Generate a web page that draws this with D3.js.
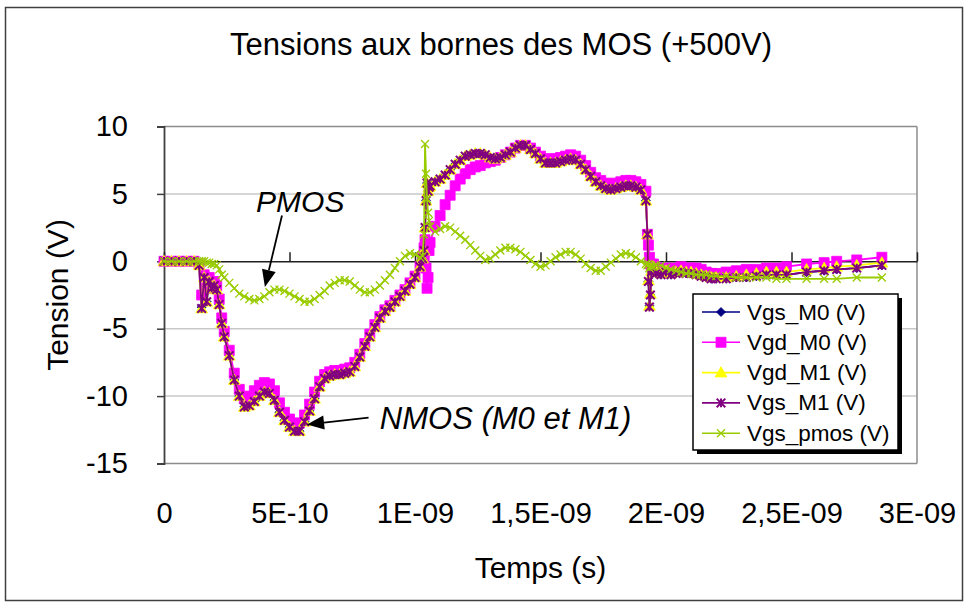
<!DOCTYPE html>
<html>
<head>
<meta charset="utf-8">
<script src="https://cdn.jsdelivr.net/npm/d3@7"></script>
<style>
  body { margin: 0; background: #fff; }
  svg { display: block; }
  text { font-family: "Liberation Sans", Arial, sans-serif; fill: #000; }
</style>
</head>
<body>
<svg id="chart" width="967" height="605"></svg>
<script>
// Time base shared by every series, in nanoseconds
const timeNs = [
  0.00, 0.03, 0.06, 0.09, 0.12,
  0.14, 0.15, 0.16, 0.17, 0.18, 0.19, 0.20, 0.21, 0.22, 0.23, 0.24,
  0.26, 0.28, 0.30, 0.32, 0.34, 0.36, 0.38, 0.40, 0.42, 0.44,
  0.46, 0.48, 0.50, 0.52, 0.54, 0.56, 0.58, 0.60, 0.62, 0.64,
  0.66, 0.68, 0.70, 0.72, 0.74, 0.76, 0.78, 0.80, 0.82, 0.84,
  0.86, 0.88, 0.90, 0.92, 0.94, 0.96, 0.98, 1.00, 1.02,
  1.03, 1.036, 1.040, 1.044, 1.048, 1.052, 1.056, 1.06,
  1.08, 1.10, 1.12, 1.14, 1.16, 1.18, 1.20, 1.22, 1.24, 1.26,
  1.28, 1.30, 1.32, 1.34, 1.36, 1.38, 1.40, 1.42, 1.44, 1.46,
  1.48, 1.50, 1.52, 1.54, 1.56, 1.58, 1.60, 1.62, 1.64, 1.66,
  1.68, 1.70, 1.72, 1.74, 1.76, 1.78, 1.80, 1.82, 1.84, 1.86,
  1.88, 1.90, 1.92,
  1.926, 1.930, 1.934, 1.938, 1.942, 1.95, 1.96,
  1.98, 2.00, 2.02, 2.04, 2.06, 2.08, 2.10, 2.12, 2.14, 2.16, 2.18, 2.20,
  2.24, 2.28, 2.32, 2.36, 2.40, 2.44, 2.48,
  2.56, 2.63, 2.68, 2.76, 2.86
];

const vgsM0 = [
  0, 0, 0, 0, 0,
  -0.3, -3.4, -1.2, -3.0, -1.5, -2.0, -1.8, -2.1, -3.2, -4.6, -5.6,
  -7.0, -8.8, -10.0, -10.8, -10.7, -10.4, -10.0, -9.7, -9.8, -10.3,
  -11.2, -11.8, -12.3, -12.6, -12.6, -11.9, -11.1, -10.2, -9.3, -8.7,
  -8.5, -8.4, -8.4, -8.3, -8.2, -7.8, -7.1, -6.3, -5.6, -4.9,
  -4.2, -3.7, -3.4, -3.0, -2.6, -2.2, -1.7, -1.2, -0.4,
  0.2, 0.8, 2.5, 4.5, 5.8, 5.2, 5.5, 5.6,
  5.9, 6.1, 6.4, 6.8, 7.2, 7.5, 7.8, 7.9, 8.0, 8.0,
  7.9, 7.7, 7.6, 7.7, 7.9, 8.1, 8.4, 8.6, 8.6, 8.3,
  8.0, 7.6, 7.3, 7.3, 7.3, 7.4, 7.5, 7.6, 7.5, 7.2,
  6.8, 6.3, 5.9, 5.6, 5.4, 5.3, 5.4, 5.5, 5.6, 5.6,
  5.5, 5.3, 4.5,
  2.0, -1.5, -3.3, -2.5, -0.8, -0.5, -0.9,
  -1.0, -0.8, -1.0, -0.9, -0.8, -0.9, -0.9, -1.0, -1.1, -1.2, -1.3, -1.3,
  -1.3, -1.2, -1.2, -1.1, -1.0, -1.0, -1.0,
  -0.8, -0.7, -0.6, -0.5, -0.3
];

const vgdM0 = [
  0, 0, 0, 0, 0,
  -0.2, -2.5, -1.0, -2.0, -1.2, -1.6, -1.5, -1.8, -2.8, -4.2, -5.2,
  -6.6, -8.3, -9.5, -10.2, -10.0, -9.6, -9.2, -9.0, -9.1, -9.6,
  -10.5, -11.2, -11.7, -12.0, -12.0, -11.4, -10.6, -9.7, -8.9, -8.4,
  -8.2, -8.1, -8.1, -8.0, -7.9, -7.5, -6.9, -6.1, -5.4, -4.7,
  -4.1, -3.6, -3.3, -2.9, -2.5, -2.1, -1.6, -1.1, -0.4,
  0.3, 1.0, 1.6, -0.5, -2.0, -1.2, 0.8, 1.4,
  2.6, 3.4, 4.2, 4.9, 5.6, 6.1, 6.5, 6.8, 7.0, 7.1,
  7.3, 7.4, 7.5, 7.7, 7.9, 8.1, 8.4, 8.6, 8.6, 8.4,
  8.1, 7.8, 7.6, 7.6, 7.6, 7.7, 7.8, 7.9, 7.8, 7.5,
  7.1, 6.6, 6.2, 6.0, 5.8, 5.7, 5.8, 5.9, 6.0, 6.0,
  5.9, 5.7, 5.2,
  2.0, 1.2, 0.3, -0.2, -0.3, -0.2, -0.5,
  -0.6, -0.5, -0.6, -0.5, -0.4, -0.5, -0.5, -0.5, -0.6, -0.8, -0.9, -0.9,
  -0.8, -0.7, -0.6, -0.6, -0.5, -0.5, -0.4,
  -0.2, -0.1, 0.0, 0.1, 0.3
];

const vgdM1 = [
  0, 0, 0, 0, 0,
  -0.3, -3.5, -1.2, -3.0, -1.5, -2.0, -1.8, -2.1, -3.2, -4.6, -5.6,
  -7.0, -8.8, -10.0, -10.8, -10.7, -10.4, -10.0, -9.7, -9.8, -10.3,
  -11.2, -11.8, -12.3, -12.6, -12.6, -11.9, -11.1, -10.2, -9.3, -8.7,
  -8.5, -8.4, -8.4, -8.3, -8.2, -7.8, -7.1, -6.3, -5.6, -4.9,
  -4.2, -3.7, -3.4, -3.0, -2.6, -2.2, -1.7, -1.2, -0.4,
  0.2, 0.8, 2.5, 4.5, 5.8, 5.2, 5.5, 5.6,
  5.9, 6.1, 6.4, 6.8, 7.2, 7.5, 7.8, 7.9, 8.0, 8.0,
  7.9, 7.7, 7.6, 7.7, 7.9, 8.1, 8.4, 8.6, 8.6, 8.3,
  8.0, 7.6, 7.3, 7.3, 7.3, 7.4, 7.5, 7.6, 7.5, 7.2,
  6.8, 6.3, 5.9, 5.6, 5.4, 5.3, 5.4, 5.5, 5.6, 5.6,
  5.5, 5.3, 4.5,
  2.0, -1.4, -3.3, -2.4, -0.7, -0.4, -0.8,
  -0.9, -0.7, -0.9, -0.8, -0.7, -0.8, -0.8, -0.9, -1.0, -1.1, -1.2, -1.2,
  -1.2, -1.1, -1.0, -0.9, -0.8, -0.8, -0.8,
  -0.6, -0.5, -0.4, -0.3, -0.1
];

const vgsM1 = [
  0, 0, 0, 0, 0,
  -0.3, -3.5, -1.2, -3.0, -1.5, -2.0, -1.8, -2.1, -3.2, -4.6, -5.6,
  -7.0, -8.8, -10.0, -10.8, -10.7, -10.4, -10.0, -9.7, -9.8, -10.3,
  -11.2, -11.8, -12.3, -12.6, -12.6, -11.9, -11.1, -10.2, -9.3, -8.7,
  -8.5, -8.4, -8.4, -8.3, -8.2, -7.8, -7.1, -6.3, -5.6, -4.9,
  -4.2, -3.7, -3.4, -3.0, -2.6, -2.2, -1.7, -1.2, -0.4,
  0.2, 0.8, 2.5, 4.5, 5.8, 5.2, 5.5, 5.6,
  5.9, 6.1, 6.4, 6.8, 7.2, 7.5, 7.8, 7.9, 8.0, 8.0,
  7.9, 7.7, 7.6, 7.7, 7.9, 8.1, 8.4, 8.6, 8.6, 8.3,
  8.0, 7.6, 7.3, 7.3, 7.3, 7.4, 7.5, 7.6, 7.5, 7.2,
  6.8, 6.3, 5.9, 5.6, 5.4, 5.3, 5.4, 5.5, 5.6, 5.6,
  5.5, 5.3, 4.5,
  2.0, -1.5, -3.4, -2.5, -0.8, -0.5, -0.9,
  -1.0, -0.8, -1.0, -0.9, -0.8, -0.9, -0.9, -1.0, -1.1, -1.2, -1.3, -1.3,
  -1.3, -1.2, -1.2, -1.1, -1.0, -1.0, -1.0,
  -0.8, -0.7, -0.6, -0.5, -0.3
];

const vgsPmos = [
  0, 0, 0, 0, 0,
  0.0, 0.0, 0.0, -0.1, -0.1, -0.2, -0.2, -0.3, -0.6, -1.0, -1.2,
  -1.6, -2.0, -2.4, -2.6, -2.8, -2.9, -2.8, -2.6, -2.3, -2.1,
  -2.1, -2.2, -2.4, -2.6, -2.8, -3.0, -3.0, -2.8, -2.5, -2.2,
  -1.8, -1.6, -1.4, -1.4, -1.5, -1.8, -2.1, -2.3, -2.3, -2.1,
  -1.8, -1.4, -1.0, -0.5, 0.0, 0.4, 0.6, 0.5, 0.3,
  0.4, 2.0, 8.7, 6.5, 4.6, 3.6, 3.0, 2.6,
  2.2, 2.4, 2.6, 2.5, 2.2, 1.9, 1.6, 1.2, 0.8, 0.4,
  0.1, 0.2, 0.5, 0.8, 1.0, 1.0, 0.9, 0.7, 0.4, 0.1,
  -0.2, -0.4, -0.3, 0.0, 0.3, 0.5, 0.7, 0.7, 0.5, 0.2,
  -0.2, -0.5, -0.7, -0.7, -0.4, -0.1, 0.2, 0.5, 0.6, 0.5,
  0.3, 0.0, -0.2,
  -0.3, -0.2, -0.5, -0.3, -0.4, -0.4, -0.3,
  -0.3, -0.5, -0.6, -0.7, -0.8, -0.9, -0.9, -1.0, -1.0, -1.0, -1.1, -1.1,
  -1.1, -1.2, -1.2, -1.2, -1.2, -1.3, -1.3,
  -1.3, -1.3, -1.3, -1.2, -1.2
];

const seriesNames = ["Vgs_M0 (V)", "Vgd_M0 (V)", "Vgd_M1 (V)", "Vgs_M1 (V)", "Vgs_pmos (V)"];
const seriesColors = ["#000080", "#ff00ff", "#ffff00", "#800080", "#99cc00"];
const seriesValues = [vgsM0, vgdM0, vgdM1, vgsM1, vgsPmos];

const xTickValues = [0, 0.5, 1, 1.5, 2, 2.5, 3];
const xTickLabels = ["0", "5E-10", "1E-09", "1,5E-09", "2E-09", "2,5E-09", "3E-09"];
const yTickValues = [-15, -10, -5, 0, 5, 10];

const titleText = "Tensions aux bornes des MOS (+500V)";
const xTitle = "Temps (s)";
const yTitle = "Tension (V)";

// ---- marker shapes (custom d3 symbol types, size = half-width in px) ----
const diamond = { draw(c, r) { c.moveTo(0, -r); c.lineTo(r, 0); c.lineTo(0, r); c.lineTo(-r, 0); c.closePath(); } };
const square = { draw(c, r) { c.rect(-r, -r, 2 * r, 2 * r); } };
const triangle = { draw(c, r) { c.moveTo(0, -r); c.lineTo(r, r * 0.75); c.lineTo(-r, r * 0.75); c.closePath(); } };
const star = { draw(c, r) { c.moveTo(-r, -r); c.lineTo(r, r); c.moveTo(-r, r); c.lineTo(r, -r); c.moveTo(0, -r); c.lineTo(0, r); } };
const cross = { draw(c, r) { c.moveTo(-r, -r); c.lineTo(r, r); c.moveTo(-r, r); c.lineTo(r, -r); } };

const markerSpec = [
  { type: diamond, size: 4.5, fill: true, sw: 0.8 },
  { type: square, size: 5, fill: true, sw: 0.8 },
  { type: triangle, size: 6, fill: true, sw: 0.6 },
  { type: star, size: 4.3, fill: false, sw: 2 },
  { type: cross, size: 4, fill: false, sw: 1.3 }
];

const svg = d3.select("#chart");

// chart-area frame
svg.append("rect")
  .attr("x", 5.5).attr("y", 7.5).attr("width", 957).attr("height", 593)
  .attr("fill", "#fff").attr("stroke", "#404040").attr("stroke-width", 1.5);

const x = d3.scaleLinear().domain([0, 3]).range([164, 917]);
const y = d3.scaleLinear().domain([-15, 10]).range([463.5, 126.5]);

// horizontal gridlines
svg.append("g")
  .selectAll("line")
  .data(yTickValues.filter(v => v !== 0))
  .join("line")
  .attr("x1", x(0)).attr("x2", x(3))
  .attr("y1", d => y(d)).attr("y2", d => y(d))
  .attr("stroke", d => (d === -15 || d === 10) ? "#8c8c8c" : "#c8c8c8")
  .attr("stroke-width", 1.5);

// right border of plot area
svg.append("line")
  .attr("x1", x(3)).attr("x2", x(3)).attr("y1", y(10)).attr("y2", y(-15))
  .attr("stroke", "#8c8c8c").attr("stroke-width", 1.5);

// y axis
const yAxis = svg.append("g")
  .attr("transform", `translate(${x(0)},0)`)
  .call(d3.axisLeft(y).tickValues(yTickValues).tickSize(7).tickPadding(29).tickFormat(d => d));
yAxis.select(".domain").attr("stroke", "#404040").attr("stroke-width", 1.8);
yAxis.selectAll(".tick line").attr("stroke", "#404040").attr("stroke-width", 1.5);
yAxis.selectAll(".tick text").attr("font-size", 29).attr("font-family", "Liberation Sans, Arial, sans-serif").attr("fill", "#000");

// x axis line at zero, ticks pointing up
const xAxisLine = svg.append("g")
  .attr("transform", `translate(0,${y(0)})`)
  .call(d3.axisTop(x).tickValues(xTickValues).tickSize(9).tickSizeOuter(0).tickFormat(""));
xAxisLine.select(".domain").attr("stroke", "#202020").attr("stroke-width", 1.5);
xAxisLine.selectAll(".tick line").attr("stroke", "#202020").attr("stroke-width", 1.5);

// x tick labels along the bottom of the plot
const xAxisLabels = svg.append("g")
  .attr("transform", `translate(0,${y(-15)})`)
  .call(d3.axisBottom(x).tickValues(xTickValues).tickSize(0).tickPadding(39)
    .tickFormat((d, i) => xTickLabels[i]));
xAxisLabels.select(".domain").remove();
xAxisLabels.selectAll(".tick text").attr("font-size", 29).attr("font-family", "Liberation Sans, Arial, sans-serif").attr("fill", "#000");

// series: line then markers, drawn in legend order
const plot = svg.append("g");
seriesValues.forEach((vals, si) => {
  const pts = timeNs.map((t, i) => [t, vals[i]]);
  const line = d3.line().x(d => x(d[0])).y(d => y(d[1]));
  plot.append("path")
    .attr("d", line(pts))
    .attr("fill", "none")
    .attr("stroke", seriesColors[si])
    .attr("stroke-width", 1.8);
  const spec = markerSpec[si];
  const sym = d3.symbol().type(spec.type).size(spec.size);
  plot.append("g")
    .selectAll("path")
    .data(pts)
    .join("path")
    .attr("transform", d => `translate(${x(d[0])},${y(d[1])})`)
    .attr("d", sym)
    .attr("fill", spec.fill ? seriesColors[si] : "none")
    .attr("stroke", seriesColors[si])
    .attr("stroke-width", spec.sw);
});

// title and axis titles
svg.append("text")
  .attr("x", 501).attr("y", 55)
  .attr("text-anchor", "middle")
  .attr("font-size", 31)
  .text(titleText);

svg.append("text")
  .attr("x", (x(0) + x(3)) / 2).attr("y", 578)
  .attr("text-anchor", "middle")
  .attr("font-size", 30)
  .text(xTitle);

svg.append("text")
  .attr("transform", `translate(68,${(y(10) + y(-15)) / 2}) rotate(-90)`)
  .attr("text-anchor", "middle")
  .attr("font-size", 30)
  .text(yTitle);

// annotations with arrows
function arrow(x1, y1, x2, y2) {
  const ang = Math.atan2(y2 - y1, x2 - x1);
  const len = 17, half = 7;
  const bx = x2 - len * Math.cos(ang), by = y2 - len * Math.sin(ang);
  svg.append("line")
    .attr("x1", x1).attr("y1", y1).attr("x2", bx).attr("y2", by)
    .attr("stroke", "#000").attr("stroke-width", 1.8);
  const px = -Math.sin(ang) * half, py = Math.cos(ang) * half;
  svg.append("path")
    .attr("d", `M${x2},${y2}L${bx + px},${by + py}L${bx - px},${by - py}Z`)
    .attr("fill", "#000");
}

svg.append("text")
  .attr("x", x(0.367)).attr("y", y(3.65))
  .attr("font-size", 30).attr("font-style", "italic")
  .text("PMOS");
arrow(x(0.47), y(3.4), x(0.402), y(-1.9));

svg.append("text")
  .attr("x", x(0.86)).attr("y", y(-12.45))
  .attr("font-size", 31).attr("font-style", "italic")
  .text("NMOS (M0 et M1)");
arrow(x(0.815), y(-11.6), x(0.57), y(-12.1));

// legend
const lg = svg.append("g").attr("transform", "translate(693,294)");
lg.append("rect").attr("x", 4).attr("y", 4).attr("width", 205).attr("height", 156).attr("fill", "#000");
lg.append("rect").attr("x", 0).attr("y", 0).attr("width", 205).attr("height", 156)
  .attr("fill", "#fff").attr("stroke", "#000").attr("stroke-width", 1.5);
seriesNames.forEach((name, si) => {
  const cy = 18 + si * 30.3;
  lg.append("line").attr("x1", 9).attr("x2", 47).attr("y1", cy).attr("y2", cy)
    .attr("stroke", seriesColors[si]).attr("stroke-width", 1.6);
  const spec = markerSpec[si];
  lg.append("path")
    .attr("transform", `translate(28,${cy})`)
    .attr("d", d3.symbol().type(spec.type).size(spec.size)())
    .attr("fill", spec.fill ? seriesColors[si] : "none")
    .attr("stroke", seriesColors[si])
    .attr("stroke-width", spec.sw);
  lg.append("text").attr("x", 54).attr("y", cy + 7.5)
    .attr("font-size", 22.5)
    .text(name);
});
</script>
</body>
</html>
